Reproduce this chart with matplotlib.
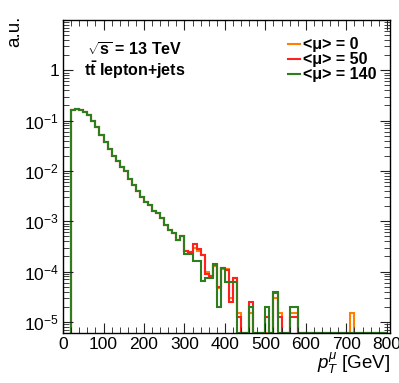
import numpy as np
import matplotlib
matplotlib.use("Agg")
from matplotlib import pyplot as plt

plt.rcParams['font.family'] = ['Liberation Sans', 'DejaVu Sans']
plt.rcParams['mathtext.fontset'] = 'custom'
plt.rcParams['mathtext.rm'] = 'Liberation Sans'
plt.rcParams['mathtext.it'] = 'Liberation Sans:italic'
plt.rcParams['mathtext.bf'] = 'Liberation Sans:bold'

# muon pT histogram, 10 GeV bins from 20 to 800 GeV (normalised, a.u.)
bin_edges = np.arange(20, 810, 10)

# common bulk of the spectrum 20-300 GeV
bulk = [0.16, 0.17, 0.165, 0.15, 0.13, 0.10, 0.075, 0.052, 0.038, 0.027,
        0.020, 0.0155, 0.012, 0.0098, 0.0068, 0.0052, 0.0040, 0.0030, 0.0024, 0.0021,
        0.0016, 0.00145, 0.00115, 0.00085, 0.00068, 0.00058, 0.00043, 0.00051]

# tails 300-800 GeV
tail_mu0 = [2.6e-4, 2.4e-4, 2.9e-4, 2.6e-4, 2.1e-4, 1.0e-4, 8.1e-5, 1.3e-4, 4.8e-5, 1.1e-4,
            1.1e-4, 3.0e-5, 7.5e-5, 1.5e-5, 0, 0, 1.5e-5, 0, 0, 0,
            0, 0, 3.0e-5, 1.5e-5, 0, 0, 1.5e-5, 1.5e-5, 0, 0,
            0, 0, 0, 0, 0, 0, 0, 0, 0, 0,
            0, 1.5e-5, 0, 0, 0, 0, 0, 0, 0, 0]
tail_mu50 = [2.6e-4, 2.4e-4, 3.5e-4, 2.8e-4, 2.1e-4, 9.0e-5, 8.1e-5, 1.35e-4, 5.0e-5, 1.2e-4,
             1.05e-4, 2.5e-5, 7.6e-5, 1.25e-5, 0, 0, 2.5e-5, 0, 0, 0,
             1.25e-5, 0, 3.75e-5, 1.25e-5, 0, 0, 1.25e-5, 1.25e-5, 0, 0,
             0, 0, 0, 0, 0, 0, 0, 0, 0, 0,
             0, 0, 0, 0, 0, 0, 0, 0, 0, 0]
tail_mu140 = [2.2e-4, 2.2e-4, 1.6e-4, 1.6e-4, 6.4e-5, 7.5e-5, 7.5e-5, 1.4e-4, 2.0e-5, 1.2e-4,
              6.1e-5, 6.1e-5, 6.1e-5, 0, 0, 0, 2.0e-5, 0, 0, 0,
              2.0e-5, 0, 4.0e-5, 0, 0, 0, 2.0e-5, 2.0e-5, 0, 0,
              0, 0, 0, 0, 0, 0, 0, 0, 0, 0,
              0, 0, 0, 0, 0, 0, 0, 0, 0, 0]

series = [
    ("<\u03bc> = 0", bulk + tail_mu0, "#ff8000"),
    ("<\u03bc> = 50", bulk + tail_mu50, "#ff2020"),
    ("<\u03bc> = 140", bulk + tail_mu140, "#2e7d1f"),
]

ymin, ymax = 6e-6, 10

fig = plt.figure(figsize=(3.99, 3.83), dpi=100)
ax = fig.add_axes([0.158, 0.1305, 0.8195, 0.8175])

handles = []
for label, vals, color in series:
    v = np.maximum(np.array(vals, dtype=float), ymin)
    h = ax.stairs(v, bin_edges, baseline=ymin, color=color, linewidth=1.5, label=label)
    handles.append(h)

ax.set_yscale("log")
ax.set_xlim(0, 808)
ax.set_ylim(ymin, ymax)

ax.set_xticks([0, 100, 200, 300, 400, 500, 600, 700, 800])
ax.set_xticks(np.arange(0, 801, 20), minor=True)
ax.set_yticks([1e-5, 1e-4, 1e-3, 1e-2, 1e-1, 1])
ax.set_yticklabels([r"$10^{-5}$", r"$10^{-4}$", r"$10^{-3}$", r"$10^{-2}$", r"$10^{-1}$", "1"])
ax.tick_params(which="both", direction="in", top=True, right=True, labelsize=12.5, colors="#222222",
               labelcolor="black", pad=3)
ax.tick_params(which="major", length=7)
ax.tick_params(which="minor", length=4)
for s in ax.spines.values():
    s.set_linewidth(1.0)

# axis titles placed like ROOT does (at the ends of the axes)
fig.text(15 / 399, 1 - 16 / 383, "a.u.", rotation=90, ha="center", va="top", fontsize=13.5)
fig.text(390 / 399, 1 - 369 / 383, r"$p_{T}^{\mu}$ [GeV]", ha="right", va="baseline", fontsize=13.5)

ax.text(0.22, 0.904, r"$\mathbf{\sqrt{s}}$ = 13 TeV", transform=ax.transAxes, ha="center", va="center",
        fontsize=11.5, fontweight="bold")
ax.text(0.22, 0.840, r"$\mathbf{t\bar{t}}$ lepton+jets", transform=ax.transAxes, ha="center", va="center",
        fontsize=11.5, fontweight="bold")

leg = ax.legend(handles=handles, loc="upper left", bbox_to_anchor=(0.665, 0.97), frameon=False,
                handlelength=0.7, handletextpad=0.2, labelspacing=0.0, borderpad=0,
                prop={"size": 11.5, "weight": "bold"})

fig.savefig("out.png", dpi=100)
